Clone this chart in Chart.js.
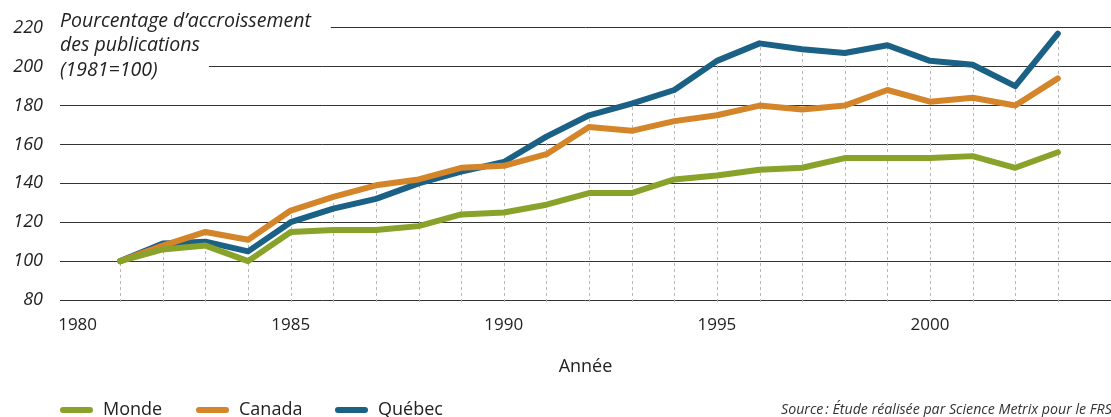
<!DOCTYPE html>
<html lang="fr">
<head>
<meta charset="utf-8">
<title>Pourcentage d’accroissement des publications</title>
<script src="https://cdn.jsdelivr.net/npm/chart.js@4.4.1/dist/chart.umd.min.js"></script>
<style>
  html, body { margin: 0; padding: 0; background: #fff; }
  #wrap { width: 1111px; height: 417px; position: relative; }
</style>
</head>
<body>
<div id="wrap"><canvas id="growthChart"></canvas></div>
<script>
// données (1981 = 100)
const years = [1981, 1982, 1983, 1984, 1985, 1986, 1987, 1988, 1989, 1990, 1991, 1992,
  1993, 1994, 1995, 1996, 1997, 1998, 1999, 2000, 2001, 2002, 2003];
const monde  = [100, 106, 108, 100, 115, 116, 116, 118, 124, 125, 129, 135, 135, 142, 144, 147, 148, 153, 153, 153, 154, 148, 156];
const canada = [100, 108, 115, 111, 126, 133, 139, 142, 148, 149, 155, 169, 167, 172, 175, 180, 178, 180, 188, 182, 184, 180, 194];
const quebec = [100, 109, 110, 105, 120, 127, 132, 140, 146, 151, 164, 175, 181, 188, 203, 212, 209, 207, 211, 203, 201, 190, 217];

const seriesNames = ['Monde', 'Canada', 'Québec'];
const seriesColors = ['#88a22a', '#d4852a', '#1b6186'];

const xTickLabels = [1980, 1985, 1990, 1995, 2000];
const yTickLabels = [80, 100, 120, 140, 160, 180, 200, 220];

const titleLines = ['Pourcentage d’accroissement', 'des publications', '(1981=100)'];
const xTitle = 'Année';
const sourceNote = 'Source\u202f: Étude réalisée par Science Metrix pour le FRSQ';

const FONT = '"Open Sans", "DejaVu Sans", sans-serif';
const TEXT = '#222';

const toPoints = vals => vals.map((v, i) => ({ x: years[i], y: v }));

// pointillés verticaux : de l'axe jusqu'à la plus haute courbe de l'année
const yearGuides = {
  id: 'yearGuides',
  beforeDatasetsDraw(chart) {
    const { ctx, chartArea, scales: { x, y } } = chart;
    ctx.save();
    ctx.strokeStyle = '#b8b8b8';
    ctx.lineWidth = 1;
    ctx.setLineDash([3, 3]);
    years.forEach((yr, i) => {
      const top = Math.max(monde[i], canada[i], quebec[i]);
      const px = Math.round(x.getPixelForValue(yr)) + 0.5;
      ctx.beginPath();
      ctx.moveTo(px, chartArea.bottom + 2);
      ctx.lineTo(px, y.getPixelForValue(top));
      ctx.stroke();
    });
    ctx.restore();

    // titre en italique avec fond blanc par-dessus la grille
    ctx.save();
    ctx.font = 'italic 19.5px ' + FONT;
    ctx.textBaseline = 'middle';
    const left = chartArea.left;
    const lineY = [21, 45, 70];
    const w0 = ctx.measureText(titleLines[0]).width;
    const w12 = Math.max(ctx.measureText(titleLines[1]).width, ctx.measureText(titleLines[2]).width);
    ctx.fillStyle = '#fff';
    ctx.fillRect(left - 2, 6, w0 + 22, 28);
    ctx.fillRect(left - 2, 34, w12 + 11, 50);
    ctx.fillStyle = TEXT;
    titleLines.forEach((t, i) => ctx.fillText(t, left, lineY[i]));
    ctx.restore();
  }
};

// légende en bas à gauche et source en bas à droite
const bottomNotes = {
  id: 'bottomNotes',
  afterDraw(chart) {
    const { ctx } = chart;
    const yMid = 410;
    const itemX = [63, 199, 338];
    ctx.save();
    ctx.font = '18px ' + FONT;
    ctx.textBaseline = 'middle';
    chart.data.datasets.forEach((ds, i) => {
      const px = itemX[i];
      ctx.strokeStyle = ds.borderColor;
      ctx.lineWidth = 6;
      ctx.lineCap = 'round';
      ctx.beginPath();
      ctx.moveTo(px, yMid);
      ctx.lineTo(px + 27, yMid);
      ctx.stroke();
      ctx.fillStyle = TEXT;
      ctx.fillText(ds.label, px + 40, yMid);
    });

    ctx.font = 'italic 14.2px ' + FONT;
    ctx.textBaseline = 'alphabetic';
    ctx.fillStyle = '#333';
    ctx.fillText(sourceNote, 781, 414);
    ctx.restore();
  }
};

const ctx = document.getElementById('growthChart');
new Chart(ctx, {
  type: 'line',
  data: {
    datasets: [monde, canada, quebec].map((vals, i) => ({
      label: seriesNames[i],
      data: toPoints(vals),
      borderColor: seriesColors[i],
      backgroundColor: seriesColors[i],
      borderWidth: 6,
      borderCapStyle: 'round',
      borderJoinStyle: 'round',
      pointRadius: 0,
      tension: 0,
      fill: false
    }))
  },
  options: {
    responsive: true,
    maintainAspectRatio: false,
    animation: false,
    layout: {
      padding: { top: 22, right: 0, bottom: 39, left: 0 }
    },
    plugins: {
      legend: { display: false },
      tooltip: { enabled: false }
    },
    scales: {
      x: {
        type: 'linear',
        min: 1979.587,
        max: 2004.247,
        afterBuildTicks: scale => { scale.ticks = xTickLabels.map(v => ({ value: v })); },
        afterFit: scale => { scale.height = 78; },
        grid: { display: false, drawTicks: false },
        border: { display: false },
        ticks: {
          color: TEXT,
          padding: 15,
          font: { family: FONT, size: 17 },
          callback: v => String(v)
        },
        title: {
          display: true,
          text: xTitle,
          color: TEXT,
          padding: 0,
          font: { family: FONT, size: 18 }
        }
      },
      y: {
        min: 80,
        max: 220,
        afterBuildTicks: scale => { scale.ticks = yTickLabels.map(v => ({ value: v })); },
        afterFit: scale => { scale.width = 60; },
        grid: { color: '#333', lineWidth: 1, drawTicks: false },
        border: { display: false },
        ticks: {
          color: TEXT,
          padding: 17,
          font: { family: FONT, size: 18, style: 'italic' },
          callback: v => String(v)
        }
      }
    }
  },
  plugins: [yearGuides, bottomNotes]
});
</script>
</body>
</html>
